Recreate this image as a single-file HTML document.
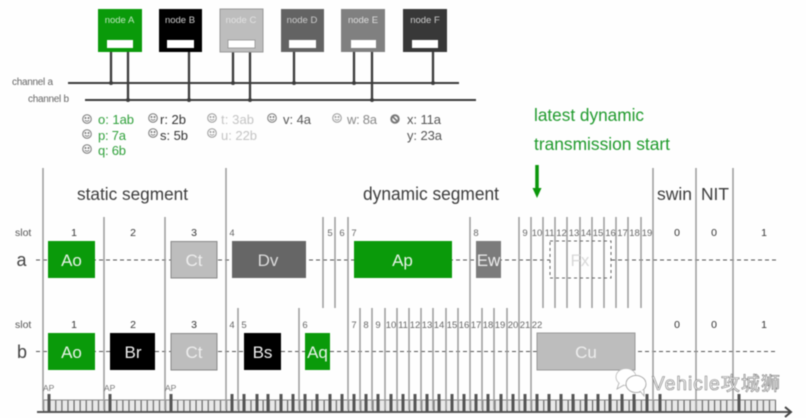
<!DOCTYPE html>
<html><head><meta charset="utf-8"><style>
html,body{margin:0;padding:0;background:#fff;width:806px;height:418px;overflow:hidden}
svg{display:block;filter:blur(.45px);font-family:"Liberation Sans","Noto Sans CJK SC",sans-serif}
.n{font-size:9.500px;text-anchor:middle}
.s{font-size:10.500px;fill:#333;text-anchor:middle}
.d{font-size:9.500px;fill:#666;text-anchor:middle}
.l{font-size:13px}
.seg{fill:#3c3c3c}
.b{font-size:17px;fill:#e8f4e8;text-anchor:middle}
.sm circle{fill:none;stroke-width:1}
.sm path{fill:none;stroke-width:.9}
</style></head><body>
<svg width="806" height="418" viewBox="0 0 806 418" xmlns="http://www.w3.org/2000/svg">
<defs>
<pattern id="tk" x="43" y="400" width="6.1" height="12" patternUnits="userSpaceOnUse"><rect width="6.1" height="12" fill="#e9e9e9"/><rect width="1.1" height="12" fill="#5c5c5c"/></pattern>
<g id="f" class="sm"><circle r="4.3"/><circle cx="-1.5" cy="-1" r=".5"/><circle cx="1.5" cy="-1" r=".5"/><path d="M-2.2 1.2Q0 3.2 2.2 1.2"/></g>
</defs>
<rect width="806" height="418" fill="#fefefe"/>

<!-- bus -->
<g stroke="#3c3c3c" stroke-width="2.300" fill="none">
<path d="M68 83H459M85 100H476" stroke-width="2"/>
<path d="M111 52V83M128 52V100M189 52V100M233 52V83M250 52V100M294 52V83M354 52V83M372 52V100M433 52V83"/>
</g>
<g fill="#3c3c3c"><circle cx="111" cy="83" r="2"/><circle cx="128" cy="100" r="2"/><circle cx="189" cy="100" r="2"/><circle cx="233" cy="83" r="2"/><circle cx="250" cy="100" r="2"/><circle cx="294" cy="83" r="2"/><circle cx="354" cy="83" r="2"/><circle cx="372" cy="100" r="2"/><circle cx="433" cy="83" r="2"/></g>

<!-- nodes -->
<rect x="98" y="9" width="44" height="43" fill="#0a9a0a"/>
<rect x="159" y="9" width="43" height="43" fill="#000"/>
<rect x="220" y="9" width="43" height="43" fill="#bdbdbd" stroke="#999"/>
<rect x="281" y="9" width="43" height="43" fill="#636363"/>
<rect x="341" y="9" width="44" height="43" fill="#808080"/>
<rect x="403" y="9" width="44" height="43" fill="#383838"/>
<g fill="#fff"><rect x="107" y="40" width="26" height="8"/><rect x="167" y="40" width="27" height="8"/><rect x="228" y="40" width="27" height="8" stroke="#888" stroke-width=".7"/><rect x="289" y="40" width="27" height="8"/><rect x="351" y="40" width="25" height="8"/><rect x="412" y="40" width="26" height="8"/></g>
<text class="n" x="119.500" y="23" fill="#bfe8bf">node A</text>
<text class="n" x="180" y="23" fill="#ccc">node B</text>
<text class="n" x="241" y="23" fill="#e2e2e2">node C</text>
<text class="n" x="302" y="23" fill="#ccc">node D</text>
<text class="n" x="363" y="23" fill="#ddd">node E</text>
<text class="n" x="425" y="23" fill="#ccc">node F</text>
<text x="12" y="85" font-size="10" fill="#666" textLength="41">channel a</text>
<text x="28" y="102" font-size="10" fill="#666" textLength="41">channel b</text>

<!-- assignment lists -->
<use href="#f" x="87" y="119" stroke="#777" fill="#777"/>
<use href="#f" x="87" y="134" stroke="#777" fill="#777"/>
<use href="#f" x="87" y="149" stroke="#777" fill="#777"/>
<use href="#f" x="153" y="118" stroke="#777" fill="#777"/>
<use href="#f" x="153" y="133" stroke="#777" fill="#777"/>
<use href="#f" x="212" y="118" stroke="#999" fill="#999"/>
<use href="#f" x="212" y="133" stroke="#999" fill="#999"/>
<use href="#f" x="272" y="118" stroke="#777" fill="#777"/>
<use href="#f" x="337" y="118" stroke="#999" fill="#999"/>
<circle cx="395" cy="119" r="3.700" fill="none" stroke="#777" stroke-width="2"/><path d="M392.500 116.500L397.500 121.500" stroke="#777" stroke-width="1.600"/>
<g class="l">
<text x="98" y="124" fill="#2fa03a" textLength="36">o: 1ab</text>
<text x="98" y="140" fill="#2fa03a" textLength="28">p: 7a</text>
<text x="98" y="155" fill="#2fa03a" textLength="28">q: 6b</text>
<text x="160" y="124" fill="#333" textLength="26">r: 2b</text>
<text x="160" y="140" fill="#333" textLength="28">s: 5b</text>
<text x="221" y="124" fill="#c4c4c4" textLength="33">t: 3ab</text>
<text x="221" y="140" fill="#c4c4c4" textLength="36">u: 22b</text>
<text x="283" y="124" fill="#555" textLength="28">v: 4a</text>
<text x="347" y="124" fill="#888" textLength="30">w: 8a</text>
<text x="407" y="124" fill="#555" textLength="34">x: 11a</text>
<text x="407" y="140" fill="#555" textLength="35">y: 23a</text>
</g>

<!-- annotation -->
<text x="534" y="121" style="font-size:17.200px" fill="#1f9a2c" textLength="110" lengthAdjust="spacingAndGlyphs">latest dynamic</text>
<text x="534" y="150" style="font-size:17.200px" fill="#1f9a2c" textLength="136" lengthAdjust="spacingAndGlyphs">transmission start</text>
<path d="M537 165V190" stroke="#0a960a" stroke-width="3.500"/><path d="M532.500 188H541.500L537 198Z" fill="#0a960a"/>

<!-- segment titles -->
<text class="seg" x="77" y="200" style="font-size:17.400px" textLength="111" lengthAdjust="spacingAndGlyphs">static segment</text>
<text class="seg" x="363" y="200" style="font-size:18.500px" textLength="136" lengthAdjust="spacingAndGlyphs">dynamic segment</text>
<text class="seg" x="657" y="200" style="font-size:17.500px" textLength="35" lengthAdjust="spacingAndGlyphs">swin</text>
<text class="seg" x="701" y="200" style="font-size:17.500px" textLength="28" lengthAdjust="spacingAndGlyphs">NIT</text>

<!-- dashed channels -->
<path d="M36 260H550M611 260H776M36 351.500H776" stroke="#555" stroke-width="1" stroke-dasharray="4 3" fill="none"/>

<!-- timeline -->
<rect x="43" y="400" width="733" height="12" fill="url(#tk)"/>
<path d="M43 400H776" stroke="#888" stroke-width="1"/>
<path d="M37 412H790" stroke="#555" stroke-width="2"/>
<path d="M785 407L791 412L785 417" stroke="#444" stroke-width="2" fill="none"/>

<!-- vertical lines -->
<g stroke="#9a9a9a" stroke-width="1.500" fill="none">
<path d="M43 168V410M226 168V410M653 168V410M696 168V410M733 168V410"/>
<path d="M104 217V410M165 217V410M348 217V410M470 217V410M519 217V410M531 217V410"/>
<path d="M323 217V308M335 217V308M543 217V308M555 217V308M567 217V308M580 217V308M592 217V308M604 217V308M616 217V308M628 217V308M641 217V308"/>
<path d="M238 308V410M299 308V410M360 308V410M372 308V410M385 308V410M397 308V410M409 308V410M421 308V410M433 308V410M446 308V410M458 308V410M482 308V410M494 308V410M507 308V410"/>
</g>

<!-- thick ticks -->
<path stroke="#555" stroke-width="3" fill="none" d="M49 394V412M110 394V412M171 394V412M232 394V412M244 394V412M257 394V412M268 394V412M281 394V412M293 394V412M305 394V412M317 394V412M330 394V412M342 394V412M354 394V412M366 394V412M378 394V412M391 394V412M403 394V412M415 394V412M427 394V412M439 394V412M452 394V412M464 394V412M476 394V412M488 394V412M501 394V412M513 394V412M525 394V412M537 394V412M549 394V412M561 394V412M573 394V412M586 394V412M598 394V412M610 394V412M622 394V412M634 394V412M647 394V412M660 394V412M739 394V412"/>
<g font-size="8.500" fill="#777"><text x="43" y="391">AP</text><text x="104" y="391">AP</text><text x="165" y="391">AP</text></g>

<!-- row a blocks -->
<rect x="48" y="241" width="47" height="37" fill="#0a9a0a"/>
<rect x="171" y="241.500" width="46" height="36.500" fill="#bdbdbd" stroke="#888"/>
<rect x="232" y="241" width="74" height="37" fill="#666"/>
<rect x="354" y="241" width="98" height="37" fill="#0a9a0a"/>
<rect x="476" y="241" width="25" height="37" fill="#7b7b7b"/>
<rect x="550" y="241" width="61" height="37" fill="none" stroke="#666" stroke-dasharray="3 3"/>
<text class="b" x="71.500" y="266">Ao</text><text class="b" x="194" y="266" style="fill:#eee">Ct</text><text class="b" x="268" y="266" style="fill:#ddd">Dv</text><text class="b" x="402.500" y="266">Ap</text><text class="b" x="488.500" y="266" style="fill:#eee">Ew</text><text class="b" x="580" y="266" style="fill:#d8d8d8">Fx</text>

<!-- row b blocks -->
<rect x="48" y="333" width="47" height="37" fill="#0a9a0a"/>
<rect x="110" y="333" width="45" height="37" fill="#000"/>
<rect x="171" y="333.500" width="46" height="36.500" fill="#bdbdbd" stroke="#888"/>
<rect x="244" y="333" width="37" height="37" fill="#000"/>
<rect x="305" y="333" width="25" height="37" fill="#0a9a0a"/>
<rect x="537" y="333" width="98" height="37" fill="#bdbdbd" stroke="#999"/>
<text class="b" x="71.500" y="358">Ao</text><text class="b" x="133" y="358" style="fill:#eee">Br</text><text class="b" x="194" y="358" style="fill:#eee">Ct</text><text class="b" x="262.500" y="358" style="fill:#eee">Bs</text><text class="b" x="317.500" y="358">Aq</text><text class="b" x="586" y="358" style="fill:#eee">Cu</text>

<!-- slot labels -->
<text x="15" y="236" font-size="10.500" fill="#555">slot</text>
<text x="15" y="328" font-size="10.500" fill="#555">slot</text>
<text x="16.500" y="266" font-size="18" fill="#444">a</text>
<text x="17" y="358" font-size="18" fill="#444">b</text>
<text class="s" x="74" y="236">1</text><text class="s" x="133" y="236">2</text><text class="s" x="194" y="236">3</text>
<text class="s" x="74" y="328">1</text><text class="s" x="133" y="328">2</text><text class="s" x="194" y="328">3</text>
<text class="s" x="677" y="236">0</text><text class="s" x="714" y="236">0</text><text class="s" x="764" y="236">1</text>
<text class="s" x="677" y="328">0</text><text class="s" x="714" y="328">0</text><text class="s" x="764" y="328">1</text>
<g class="d">
<text x="232" y="236">4</text><text x="330" y="236">5</text><text x="342" y="236">6</text><text x="354" y="236">7</text><text x="476" y="236">8</text><text x="525" y="236">9</text><text x="537" y="236">10</text><text x="549.500" y="236">11</text><text x="561.500" y="236">12</text><text x="574" y="236">13</text><text x="586" y="236">14</text><text x="598" y="236">15</text><text x="610.500" y="236">16</text><text x="622.500" y="236">17</text><text x="634.500" y="236">18</text><text x="647" y="236">19</text>
<text x="232" y="328">4</text><text x="244" y="328">5</text><text x="305" y="328">6</text><text x="354" y="328">7</text><text x="366" y="328">8</text><text x="378" y="328">9</text><text x="391" y="328">10</text><text x="403" y="328">11</text><text x="415" y="328">12</text><text x="427" y="328">13</text><text x="439" y="328">14</text><text x="452" y="328">15</text><text x="464" y="328">16</text><text x="476" y="328">17</text><text x="488" y="328">18</text><text x="500" y="328">19</text><text x="513" y="328">20</text><text x="525" y="328">21</text><text x="537" y="328">22</text>
</g>

<!-- watermark -->
<ellipse cx="626" cy="377" rx="10" ry="8.500" fill="#fff" stroke="#bbb" stroke-width=".8"/>
<ellipse cx="636" cy="384" rx="10" ry="8.500" fill="#fff" stroke="#999" stroke-width=".8"/>
<path d="M619 383L617 389L624 385M640 391L644 396L644 390" fill="#fff" stroke="#aaa" stroke-width=".8"/>
<text x="652" y="390" font-size="19" fill="#fff" stroke="#777" stroke-width=".6" textLength="128">Vehicle攻城狮</text>
</svg>
</body></html>
